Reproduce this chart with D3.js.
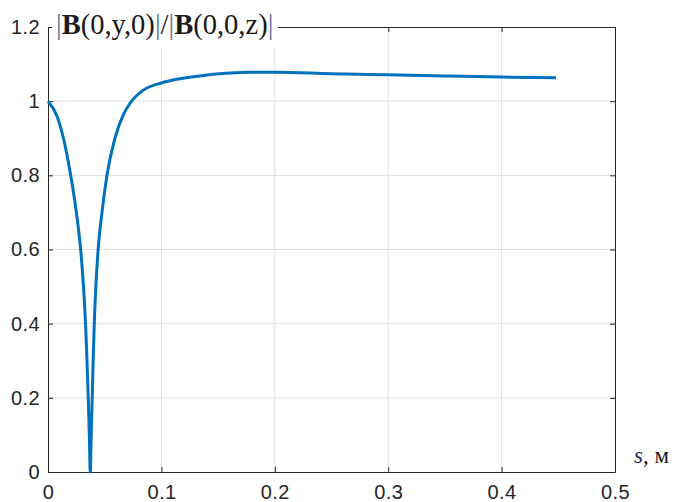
<!DOCTYPE html>
<html>
<head>
<meta charset="utf-8">
<script src="https://cdn.jsdelivr.net/npm/d3@7"></script>
<style>
  body { margin: 0; background: #fff; }
  svg { display: block; }
</style>
</head>
<body>
<div id="chart"></div>
<script>
var width = 679, height = 502;

// distance s, m
var sVals = [0, 0.0079, 0.0136, 0.0200, 0.0250, 0.0288, 0.0313, 0.0331, 0.0344, 0.0355, 0.0364, 0.0373,
             0.0381, 0.0390, 0.0398, 0.0408, 0.0422, 0.0442, 0.0476, 0.0520, 0.0590, 0.0667, 0.0725,
             0.0838, 0.1, 0.1133, 0.1338, 0.1485, 0.178, 0.2, 0.25, 0.3, 0.35, 0.4, 0.448];
// |B(0,y,0)| / |B(0,0,z)|
var ratio = [1, 0.96, 0.9, 0.8, 0.7, 0.6, 0.5, 0.4, 0.3, 0.2, 0.1, 0.0,
             0.1, 0.2, 0.3, 0.4, 0.5, 0.6, 0.7, 0.8, 0.9, 0.965, 0.995,
             1.029, 1.049, 1.059, 1.068, 1.073, 1.078, 1.078, 1.074, 1.071, 1.068, 1.065, 1.063];

var xTicks = [0, 0.1, 0.2, 0.3, 0.4, 0.5];
var yTicks = [0, 0.2, 0.4, 0.6, 0.8, 1, 1.2];

var pLeft = 48, pRight = 615, pTop = 27, pBottom = 472;

var svg = d3.select('#chart')
  .append('svg')
  .attr('width', width)
  .attr('height', height);

var x = d3.scaleLinear().domain([0, 0.5]).range([pLeft, pRight]);
var y = d3.scaleLinear().domain([0, 1.2]).range([pBottom, pTop]);

// grid
svg.append('g')
  .selectAll('line')
  .data(xTicks.slice(1, -1))
  .enter().append('line')
    .attr('x1', function(d) { return x(d); })
    .attr('x2', function(d) { return x(d); })
    .attr('y1', pTop)
    .attr('y2', pBottom)
    .attr('stroke', '#dfdfdf')
    .attr('stroke-width', 1);

svg.append('g')
  .selectAll('line')
  .data(yTicks.slice(1, -1))
  .enter().append('line')
    .attr('x1', pLeft)
    .attr('x2', pRight)
    .attr('y1', function(d) { return y(d); })
    .attr('y2', function(d) { return y(d); })
    .attr('stroke', '#dfdfdf')
    .attr('stroke-width', 1);

// axes, ticks inward
var fmt = function(d) { return d === 0 ? '0' : d3.format('')(d); };

svg.append('g')
  .attr('transform', 'translate(0,' + pBottom + ')')
  .call(d3.axisBottom(x).tickValues(xTicks).tickFormat(fmt).tickSizeInner(-5).tickSizeOuter(0).tickPadding(13));

svg.append('g')
  .attr('transform', 'translate(' + pLeft + ',0)')
  .call(d3.axisLeft(y).tickValues(yTicks).tickFormat(fmt).tickSizeInner(-5).tickSizeOuter(0).tickPadding(8));

svg.append('g')
  .attr('transform', 'translate(0,' + pTop + ')')
  .call(d3.axisTop(x).tickValues(xTicks).tickFormat('').tickSizeInner(-5).tickSizeOuter(0));

svg.append('g')
  .attr('transform', 'translate(' + pRight + ',0)')
  .call(d3.axisRight(y).tickValues(yTicks).tickFormat('').tickSizeInner(-5).tickSizeOuter(0));

svg.selectAll('.domain').attr('stroke', '#262626').attr('stroke-width', 1);
svg.selectAll('.tick line').attr('stroke', '#262626');
svg.selectAll('.tick text')
  .attr('fill', '#262626')
  .attr('font-family', '"Liberation Sans", Arial, sans-serif')
  .attr('font-size', 20)
  .attr('letter-spacing', '0.4px');

// the curve
var line = d3.line()
  .x(function(d, i) { return x(sVals[i]); })
  .y(function(d) { return y(d); })
  .curve(d3.curveMonotoneX);

svg.append('path')
  .datum(ratio)
  .attr('d', line)
  .attr('fill', 'none')
  .attr('stroke', '#0072BD')
  .attr('stroke-width', 3)
  .attr('stroke-linejoin', 'round');

// title with white box over the top left corner
svg.append('rect')
  .attr('x', 52)
  .attr('y', 4)
  .attr('width', 226)
  .attr('height', 43)
  .attr('fill', '#fff');

var title = svg.append('text')
  .attr('x', 56)
  .attr('y', 34)
  .style('font-family', '"Liberation Serif", "Times New Roman", serif')
  .style('font-size', '28.5px')
  .attr('fill', '#1a1a1a');

var barCol = '#5d6f96';
title.append('tspan').attr('fill', barCol).text('|');
title.append('tspan').style('font-weight', 'bold').text('B');
title.append('tspan').text('(0,y,0)');
title.append('tspan').attr('fill', barCol).text('|');
title.append('tspan').text('/');
title.append('tspan').attr('fill', barCol).text('|');
title.append('tspan').style('font-weight', 'bold').text('B');
title.append('tspan').text('(0,0,z)');
title.append('tspan').attr('fill', barCol).text('|');

// x label
var xl = svg.append('text')
  .attr('x', 634)
  .attr('y', 463)
  .style('font-family', '"Liberation Serif", "Times New Roman", serif')
  .style('font-size', '23px')
  .attr('fill', '#1a1a1a');
xl.append('tspan').style('font-style', 'italic').attr('fill', '#1c2f66').text('s');
xl.append('tspan').text(', м');
</script>
</body>
</html>
